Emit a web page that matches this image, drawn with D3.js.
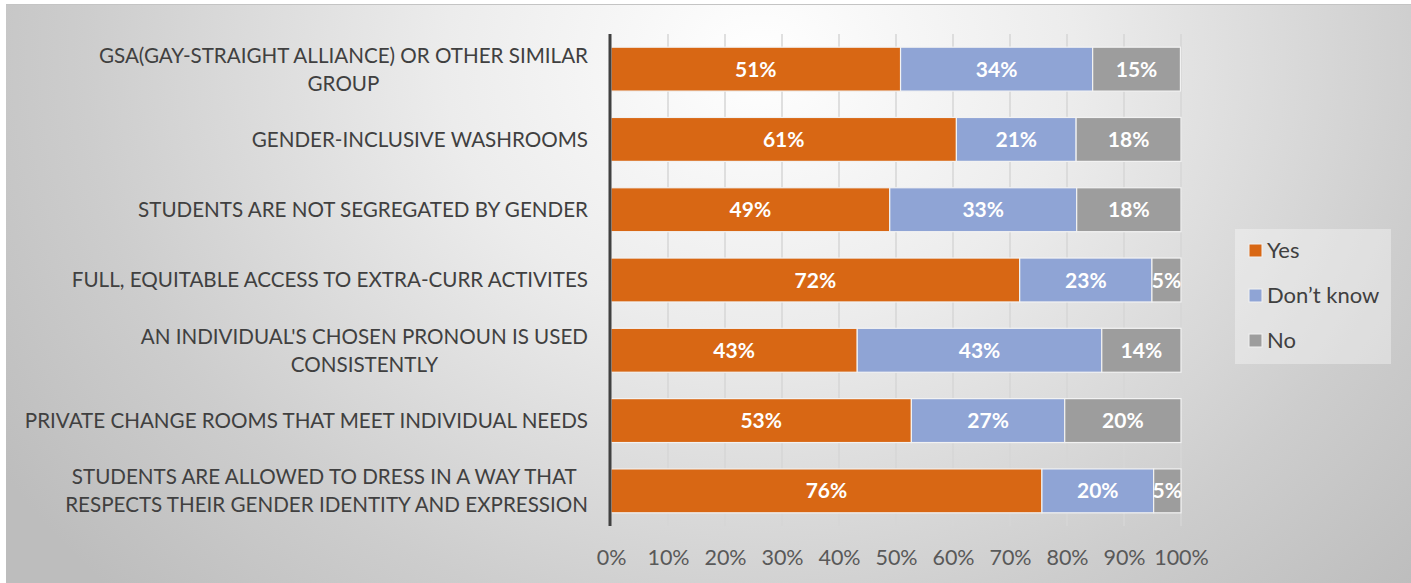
<!DOCTYPE html>
<html>
<head>
<meta charset="utf-8">
<script src="https://cdn.jsdelivr.net/npm/d3@7"></script>
<style>
  html, body { margin: 0; padding: 0; background: #ffffff; }
  svg { display: block; }
</style>
</head>
<body>
<svg id="chart" width="1411" height="583"></svg>
<script>
// ---- data ----
const categories = [
  ["GSA(GAY-STRAIGHT ALLIANCE) OR OTHER SIMILAR", "GROUP"],
  ["GENDER-INCLUSIVE WASHROOMS"],
  ["STUDENTS ARE NOT SEGREGATED BY GENDER"],
  ["FULL, EQUITABLE ACCESS TO EXTRA-CURR ACTIVITES"],
  ["AN INDIVIDUAL'S CHOSEN PRONOUN IS USED", "CONSISTENTLY"],
  ["PRIVATE CHANGE ROOMS THAT MEET INDIVIDUAL NEEDS"],
  ["STUDENTS ARE ALLOWED TO DRESS IN A WAY THAT\u00a0", "RESPECTS THEIR GENDER IDENTITY AND EXPRESSION"]
];
const seriesNames = ["Yes", "Don\u2019t know", "No"];
const yesValues      = [50.8, 60.6, 48.9, 71.7, 43.2, 52.7, 75.6];
const dontKnowValues = [33.7, 21.0, 32.8, 23.2, 42.9, 26.9, 19.6];
const noValues       = [15.4, 18.4, 18.3, 5.1, 13.9, 20.4, 4.8];
const tickValues = [0, 10, 20, 30, 40, 50, 60, 70, 80, 90, 100];
const colors = ["#D86714", "#8FA4D5", "#9D9D9D"];

// ---- layout ----
const svg = d3.select("#chart");
const W = 1411, H = 583;
const plot = { left: 611, right: 1181, top: 34, bottom: 526 };
const FONT = "Lato, 'Open Sans', sans-serif";

// background
const defs = svg.append("defs");
const grad = defs.append("radialGradient")
  .attr("id", "bg").attr("gradientUnits", "userSpaceOnUse")
  .attr("cx", 760).attr("cy", 60).attr("r", 900)
  .attr("gradientTransform", "translate(760,60) scale(1,0.85) translate(-760,-60)");
grad.append("stop").attr("offset", "0%").attr("stop-color", "#ffffff");
grad.append("stop").attr("offset", "35%").attr("stop-color", "#ececec");
grad.append("stop").attr("offset", "75%").attr("stop-color", "#cdcdcd");
grad.append("stop").attr("offset", "100%").attr("stop-color", "#bdbdbd");

svg.append("rect").attr("x", 6).attr("y", 4).attr("width", W - 6).attr("height", H - 4)
  .attr("fill", "url(#bg)");
svg.append("line").attr("x1", 6).attr("x2", W).attr("y1", 4.5).attr("y2", 4.5)
  .attr("stroke", "#c4c4c4").attr("stroke-width", 1);

// scales
const x = d3.scaleLinear().domain([0, 100]).range([plot.left, plot.right]);
const y = d3.scaleBand().domain(d3.range(categories.length))
  .range([plot.top, plot.bottom]).paddingInner(0.375).paddingOuter(0.1875);

// gridlines
svg.append("g").selectAll("line").data(tickValues.slice(1)).join("line")
  .attr("x1", d => x(d)).attr("x2", d => x(d))
  .attr("y1", plot.top).attr("y2", plot.bottom)
  .attr("stroke", "#d6d6d6").attr("stroke-width", 1.5);

// stacked data
const stackData = categories.map((c, i) => ({ a: yesValues[i], b: dontKnowValues[i], c: noValues[i] }));
const stacked = d3.stack().keys(["a", "b", "c"])(stackData);

const fmt = v => Math.round(v) + "%";

stacked.forEach((layer, si) => {
  const g = svg.append("g");
  g.selectAll("rect").data(layer).join("rect")
    .attr("x", d => x(d[0]))
    .attr("y", (d, i) => y(i))
    .attr("width", d => x(d[1]) - x(d[0]))
    .attr("height", y.bandwidth())
    .attr("fill", colors[si])
    .attr("stroke", "#f2f2f2").attr("stroke-width", 1.2);
  g.selectAll("text").data(layer).join("text")
    .attr("x", d => (x(d[0]) + x(d[1])) / 2)
    .attr("y", (d, i) => y(i) + y.bandwidth() / 2)
    .attr("dy", "0.36em")
    .attr("text-anchor", "middle")
    .attr("font-family", FONT)
    .attr("font-weight", "bold")
    .attr("font-size", 21)
    .attr("fill", "#ffffff")
    .text(d => fmt(d[1] - d[0]));
});

// axis line
svg.append("line").attr("x1", plot.left - 1).attr("x2", plot.left - 1)
  .attr("y1", plot.top).attr("y2", plot.bottom)
  .attr("stroke", "#404040").attr("stroke-width", 3);

// x axis tick labels
const xAxis = d3.axisBottom(x).tickValues(tickValues).tickFormat(d => d + "%").tickSize(0).tickPadding(0);
const ax = svg.append("g").attr("transform", `translate(0, 550)`).call(xAxis);
ax.select(".domain").remove();
ax.selectAll("text")
  .attr("font-family", FONT)
  .attr("font-size", 21.5)
  .attr("fill", "#595959");

// category labels (multi-line blocks centered, block right-aligned)
const labG = svg.append("g");
const labelRight = 588;
categories.forEach((lines, i) => {
  const cy = y(i) + y.bandwidth() / 2;
  const lh = 28;
  const texts = lines.map((ln, j) => labG.append("text")
      .attr("y", cy + (j - (lines.length - 1) / 2) * lh)
      .attr("dy", "0.36em")
      .attr("text-anchor", "middle")
      .attr("font-family", FONT)
      .attr("font-size", 20.6)
      .attr("fill", "#404040")
      .style("white-space", "pre")
      .text(ln));
  const maxW = d3.max(texts, t => t.node().getComputedTextLength());
  texts.forEach(t => t.attr("x", labelRight - maxW / 2));
});

// legend
const lg = svg.append("g");
lg.append("rect").attr("x", 1235).attr("y", 229).attr("width", 156).attr("height", 135)
  .attr("fill", "#ffffff").attr("fill-opacity", 0.35);
seriesNames.forEach((s, i) => {
  const ly = 250 + i * 45;
  lg.append("rect").attr("x", 1249).attr("y", ly - 6).attr("width", 13).attr("height", 13)
    .attr("fill", colors[i]).attr("stroke", "#f2f2f2").attr("stroke-width", 1);
  lg.append("text").attr("x", 1267).attr("y", ly).attr("dy", "0.36em")
    .attr("font-family", FONT)
    .attr("font-size", 22).attr("fill", "#404040").text(s);
});
</script>
</body>
</html>
